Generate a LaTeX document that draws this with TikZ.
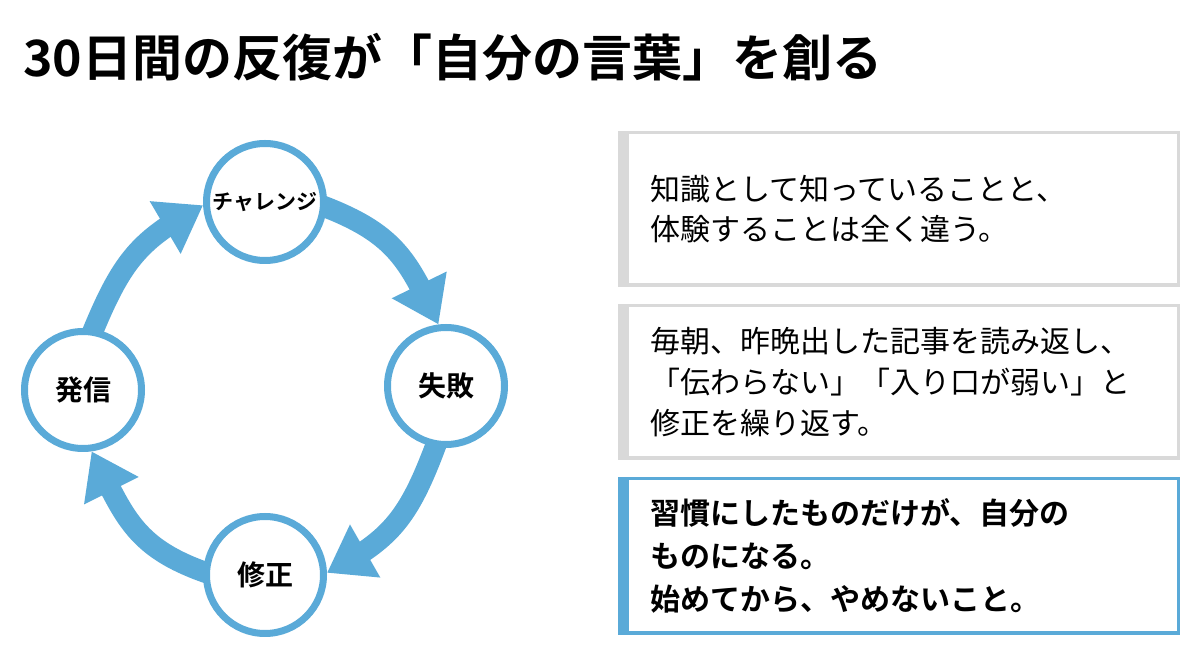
\documentclass[tikz,border=0pt]{standalone}
\usepackage{fontspec}
\setmainfont{Noto Sans CJK JP}[BoldFont={Noto Sans CJK JP Bold}]
\usetikzlibrary{arrows.meta,bending}
\definecolor{cblue}{HTML}{5AAAD8}
\definecolor{cgray}{HTML}{D9D9D9}
\pgfdeclarelayer{bg}
\pgfsetlayers{bg,main}
\begin{document}
\begin{tikzpicture}[x=1pt,y=1pt,
  stage/.style={circle, draw=cblue, line width=7pt, fill=white, minimum size=117pt, inner sep=0pt, font=\bfseries\fontsize{28}{30}\selectfont},
  cyc/.style={draw=cblue, line width=21pt, shorten <=-12pt, looseness=1.12, -{Triangle[width=58pt,length=44pt]}},
  card/.style={rectangle, draw=cgray, line width=3.5pt, fill=white, text width=498pt, inner xsep=30.25pt, inner ysep=0pt, align=left},
]
\useasboundingbox (0,0) rectangle (1200,656);
\begin{pgfonlayer}{bg}
\fill[white] (0,0) rectangle (1200,656);
\end{pgfonlayer}

% title
\node[anchor=base west, inner sep=0pt, font=\bfseries\fontsize{50}{60}\selectfont] (title) at (23,579) {30日間の反復が「自分の言葉」を創る};

% cycle stages
\node[stage] (chal) at (265,454) {\fontsize{21}{24}\selectfont チャレンジ};
\node[stage] (fail) at (446,270) {失敗};
\node[stage] (corr) at (265,81) {修正};
\node[stage] (hatsu) at (83,266) {発信};

% cycle arrows
\begin{pgfonlayer}{bg}
\draw[cyc] (hatsu.80) to[out=68,in=208] (chal.183);
\draw[cyc] (chal.-5) to[out=-20,in=115] (fail.97);
\draw[cyc] (fail.-100) to[out=-110,in=27] (corr.2);
\draw[cyc] (corr.177) to[out=162,in=-63] (hatsu.-82);
\end{pgfonlayer}

% cards
\node[card, minimum height=152.5pt, font=\fontsize{30}{39.5}\selectfont] (b1) at (899,447) {知識として知っていることと、\\体験することは全く違う。};
\fill[cgray] (b1.north west) rectangle ([xshift=11pt]b1.south west);

\node[card, minimum height=152.5pt, font=\fontsize{30}{41}\selectfont] (b2) at (899,274) {毎朝、昨晩出した記事を読み返し、\\「伝わらない」「入り口が弱い」と\\修正を繰り返す。};
\fill[cgray] (b2.north west) rectangle ([xshift=11pt]b2.south west);

\node[card, draw=cblue, minimum height=154.5pt, font=\bfseries\fontsize{30}{43}\selectfont] (b3) at (899,100) {習慣にしたものだけが、自分の\\ものになる。\\始めてから、やめないこと。};
\fill[cblue] (b3.north west) rectangle ([xshift=11pt]b3.south west);
\end{tikzpicture}
\end{document}
